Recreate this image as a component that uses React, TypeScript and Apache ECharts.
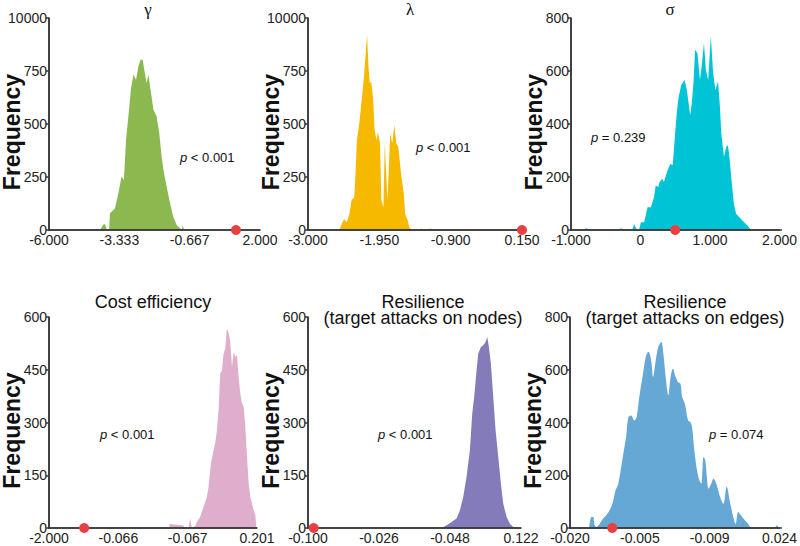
import React, { useEffect, useRef } from "react";
import * as echarts from "echarts";

const FONT = "'Liberation Sans', Arial, Helvetica, sans-serif";

// ---- gamma ----
const gammaX = [-4.95,-4.89,-4.83,-4.5,-4.45,-4.4,-4.06,-3.95,-3.88,-3.8,-3.72,-3.69,-3.5,-3.37,-3.25,-3.16,-3.08,-2.99,-2.89,-2.8,-2.7,-2.61,-2.53,-2.45,-2.4,-2.3,-2.23,-2.15,-2.04,-1.92,-1.82,-1.73,-1.64,-1.54,-1.41,-1.29,-1.16,-1.03,-0.97,-0.93,-0.88];
const gammaY = [0,5,0,0,5,0,0,25,28,0,0,79,102,173,252,236,425,535,669,732,709,772,803,803,764,693,732,661,567,535,457,346,268,205,126,63,24,8,0,22,0];
const gammaObs = 1.09;
const gammaTicks = [-6, -3.333, -0.667, 2];
const gammaTickLabels = ["-6.000", "-3.333", "-0.667", "2.000"];

// ---- lambda ----
const lambdaX = [-2.54,-2.47,-2.43,-2.39,-2.36,-2.32,-2.31,-2.28,-2.24,-2.22,-2.18,-2.15,-2.13,-2.11,-2.09,-2.07,-2.04,-2.02,-1.99,-1.97,-1.94,-1.92,-1.89,-1.87,-1.83,-1.79,-1.76,-1.73,-1.7,-1.67,-1.63,-1.59,-1.57,-1.53,-1.51,-1.47,-1.36,-1.33,-1.31,-1.23,-1.2,-1.17];
const lambdaY = [0,52,36,76,139,155,202,423,518,581,708,834,921,771,692,700,613,471,423,463,408,139,107,408,139,455,408,494,408,392,265,171,76,44,13,0,0,8,0,0,8,0];
const lambdaObs = 0.15;
const lambdaTicks = [-3, -1.95, -0.9, 0.15];
const lambdaTickLabels = ["-3.000", "-1.950", "-0.900", "0.150"];

// ---- sigma ----
const sigmaX = [-0.81,-0.78,-0.75,-0.3,-0.28,-0.25,-0.12,-0.09,-0.05,-0.02,0.006,0.053,0.101,0.148,0.195,0.219,0.256,0.275,0.313,0.337,0.37,0.408,0.431,0.464,0.502,0.526,0.549,0.587,0.634,0.667,0.715,0.738,0.762,0.786,0.819,0.856,0.88,0.913,0.941,0.974,1.012,1.045,1.078,1.116,1.14,1.163,1.201,1.234,1.258,1.282,1.315,1.343,1.376,1.423,1.47,1.541,1.589];
const sigmaY = [0,8,0,0,8,0,0,22,0,0,29,29,86,86,124,168,162,181,193,181,209,238,250,244,377,453,503,547,566,528,433,478,554,680,667,566,617,705,604,566,731,592,528,560,478,364,276,314,320,269,175,99,61,48,35,16,0];
const sigmaObs = 0.5;
const sigmaTicks = [-1, 0, 1, 2];
const sigmaTickLabels = ["-1.000", "0", "1.000", "2.000"];

// ---- cost efficiency (positions along the tick sequence) ----
const costX = [1.737,1.794,1.93,1.963,2.012,2.036,2.06,2.108,2.132,2.18,2.229,2.277,2.301,2.335,2.373,2.397,2.422,2.446,2.47,2.494,2.518,2.542,2.566,2.59,2.615,2.639,2.663,2.687,2.711,2.735,2.759,2.783,2.808,2.832,2.856,2.88,2.904,2.928,2.952,2.976,2.991];
const costY = [12,10,8,0,0,27,0,5,17,31,60,88,117,183,221,240,278,335,439,448,496,510,567,555,529,458,500,486,491,429,382,354,344,287,202,126,88,69,50,36,0];
const costObs = 0.507;
const costTicks = [0, 1, 2, 3];
const costTickLabels = ["-2.000", "-0.066", "-0.067", "0.201"];

// ---- resilience nodes ----
const nodesX = [1.881,1.951,2.022,2.092,2.139,2.186,2.233,2.28,2.313,2.341,2.374,2.398,2.435,2.468,2.501,2.525,2.548,2.576,2.609,2.642,2.68,2.717,2.75,2.797,2.844,2.891,2.915];
const nodesY = [0,8,17,27,50,88,145,221,325,373,448,496,515,520,529,543,515,467,373,278,202,126,69,31,12,3,0];
const nodesObs = 0.08;
const nodesTicks = [0, 1, 2, 3];
const nodesTickLabels = ["-0.100", "-0.026", "-0.048", "0.122"];

// ---- resilience edges ----
const edgesX = [0.274,0.307,0.331,0.354,0.378,0.425,0.472,0.52,0.567,0.614,0.652,0.685,0.718,0.756,0.803,0.836,0.874,0.921,0.954,0.992,1.039,1.086,1.124,1.162,1.19,1.228,1.266,1.308,1.337,1.37,1.408,1.441,1.474,1.512,1.545,1.582,1.606,1.644,1.691,1.724,1.748,1.781,1.819,1.852,1.88,1.913,1.937,1.96,1.984,2.022,2.055,2.102,2.149,2.197,2.244,2.291,2.338,2.371,2.409,2.447,2.504,2.551,2.598,2.929,2.962,2.985];
const edgesY = [0,42,42,10,4,16,35,48,67,99,143,162,206,269,345,421,427,408,421,497,573,649,668,636,573,636,687,705,661,573,503,573,604,573,554,547,497,472,408,402,383,294,219,181,168,269,257,193,149,168,187,162,118,92,156,99,42,16,61,48,29,16,0,0,10,0];
const edgesObs = 0.605;
const edgesTicks = [0, 1, 2, 3];
const edgesTickLabels = ["-0.020", "-0.005", "-0.009", "0.024"];

// y-axis tick labels
const yLabelsBig = ["0", "250", "500", "750", "10000"];
const yLabels800 = ["0", "200", "400", "600", "800"];
const yLabels600 = ["0", "150", "300", "450", "600"];

const pTexts = ["< 0.001", "< 0.001", "= 0.239", "< 0.001", "< 0.001", "= 0.074"];

const panels = [
  { xs: gammaX, ys: gammaY, obs: gammaObs, ticks: gammaTicks, tickLabels: gammaTickLabels, yMax: 1000, yInt: 250, yLabels: yLabelsBig, color: "#8cb850", smooth: false },
  { xs: lambdaX, ys: lambdaY, obs: lambdaObs, ticks: lambdaTicks, tickLabels: lambdaTickLabels, yMax: 1000, yInt: 250, yLabels: yLabelsBig, color: "#f7b800", smooth: false },
  { xs: sigmaX, ys: sigmaY, obs: sigmaObs, ticks: sigmaTicks, tickLabels: sigmaTickLabels, yMax: 800, yInt: 200, yLabels: yLabels800, color: "#00c4d6", smooth: false },
  { xs: costX, ys: costY, obs: costObs, ticks: costTicks, tickLabels: costTickLabels, yMax: 600, yInt: 150, yLabels: yLabels600, color: "#dfaecc", smooth: false },
  { xs: nodesX, ys: nodesY, obs: nodesObs, ticks: nodesTicks, tickLabels: nodesTickLabels, yMax: 600, yInt: 150, yLabels: yLabels600, color: "#847cba", smooth: false },
  { xs: edgesX, ys: edgesY, obs: edgesObs, ticks: edgesTicks, tickLabels: edgesTickLabels, yMax: 800, yInt: 200, yLabels: yLabels800, color: "#65a8d5", smooth: 0.35 },
];

// layout (pixels)
const grids = [
  { left: 49, top: 18, width: 211, height: 212 },
  { left: 308, top: 18, width: 214, height: 212 },
  { left: 571, top: 18, width: 211, height: 212 },
  { left: 49, top: 317, width: 208, height: 211 },
  { left: 308, top: 317, width: 213, height: 211 },
  { left: 570, top: 317, width: 212, height: 211 },
];
const pPos = [
  [180, 157], [416, 147], [591, 137], [100, 434], [378, 434], [709, 434],
];

export default function App() {
  const ref = useRef<HTMLDivElement>(null);
  useEffect(() => {
    if (!ref.current) return;
    const chart = echarts.init(ref.current, null, { renderer: "svg" });
    const AXIS_COLOR = "#3a3a3a";
    const AXIS_W = 1.6;
    const option: any = {
      animation: false,
      grid: grids.map((g) => ({ ...g })),
      xAxis: panels.map((p, i) => ({
        type: "value",
        gridIndex: i,
        z: 10,
        min: p.ticks[0],
        max: p.ticks[p.ticks.length - 1],
        axisLine: { show: true, onZero: false, lineStyle: { color: AXIS_COLOR, width: AXIS_W } },
        axisTick: { show: false },
        splitLine: { show: false },
        axisLabel: {
          customValues: p.ticks,
          showMinLabel: true,
          showMaxLabel: true,
          fontSize: 14,
          fontFamily: FONT,
          color: "#222",
          margin: 3,
          formatter: (v: number) => {
            let best = 0;
            for (let k = 1; k < p.ticks.length; k++) {
              if (Math.abs(p.ticks[k] - v) < Math.abs(p.ticks[best] - v)) best = k;
            }
            return p.tickLabels[best];
          },
        },
      })),
      yAxis: panels.map((p, i) => ({
        type: "value",
        gridIndex: i,
        z: 10,
        min: 0,
        max: p.yMax,
        interval: p.yInt,
        axisLine: { show: true, onZero: false, lineStyle: { color: AXIS_COLOR, width: AXIS_W } },
        axisTick: { show: true, length: 3, lineStyle: { color: AXIS_COLOR, width: 1.5 } },
        splitLine: { show: false },
        axisLabel: {
          fontSize: 14,
          fontFamily: FONT,
          color: "#222",
          margin: 2,
          formatter: (v: number) => p.yLabels[Math.round(v / p.yInt)],
        },
      })),
      series: [
        ...panels.map((p, i) => ({
          type: "line",
          xAxisIndex: i,
          yAxisIndex: i,
          data: p.xs.map((x, j) => [x, p.ys[j]]),
          symbol: "none",
          showSymbol: false,
          smooth: p.smooth,
          lineStyle: { width: 0, color: p.color },
          itemStyle: { color: p.color },
          areaStyle: { color: p.color, opacity: 1 },
          silent: true,
          z: 2,
        })),
        ...panels.map((p, i) => ({
          type: "scatter",
          xAxisIndex: i,
          yAxisIndex: i,
          data: [[p.obs, 0]],
          symbolSize: 10,
          clip: false,
          itemStyle: { color: "#e8403f", opacity: 1 },
          silent: true,
          z: 20,
        })),
      ],
      graphic: [
        // axis frame drawn as filled bars on top (left and bottom edge of each grid)
        ...grids.map((g) => ({
          type: "rect",
          z: 15,
          silent: true,
          shape: { x: g.left - AXIS_W / 2, y: g.top, width: AXIS_W, height: g.height + AXIS_W / 2 },
          style: { fill: AXIS_COLOR },
        })),
        ...grids.map((g) => ({
          type: "rect",
          z: 15,
          silent: true,
          shape: { x: g.left - AXIS_W / 2, y: g.top + g.height - AXIS_W / 2, width: g.width + AXIS_W / 2, height: AXIS_W },
          style: { fill: AXIS_COLOR },
        })),
        ...["γ", "λ", "σ"].map((t, i) => ({
          type: "text",
          x: [148, 410, 670][i],
          y: 9,
          style: {
            text: t,
            fontSize: 17,
            fontFamily: "'Liberation Serif', 'DejaVu Serif', serif",
            fill: "#111",
            textAlign: "center",
            textVerticalAlign: "middle",
          },
        })),
        {
          type: "text",
          x: 153,
          y: 302,
          style: { text: "Cost efficiency", fontSize: 18, fontFamily: FONT, fill: "#111", textAlign: "center", textVerticalAlign: "middle" },
        },
        ...[[423, "Resilience"], [423, "(target attacks on nodes)"], [685, "Resilience"], [685, "(target attacks on edges)"]].map((d, k) => ({
          type: "text",
          x: d[0] as number,
          y: k % 2 === 0 ? 302 : 318,
          style: { text: d[1] as string, fontSize: 18, fontFamily: FONT, fill: "#111", textAlign: "center", textVerticalAlign: "middle" },
        })),
        ...grids.map((g) => ({
          type: "text",
          x: g.left - 37,
          y: g.top + g.height / 2 + 8,
          rotation: Math.PI / 2,
          style: {
            text: "Frequency",
            fontSize: 23,
            fontWeight: "bold",
            fontFamily: FONT,
            fill: "#111",
            textAlign: "center",
            textVerticalAlign: "middle",
          },
        })),
        ...pPos.map((pp, i) => ({
          type: "text",
          x: pp[0],
          y: pp[1],
          style: {
            text: "{i|p} " + pTexts[i],
            fontSize: 13,
            fontFamily: FONT,
            fill: "#111",
            textAlign: "left",
            textVerticalAlign: "middle",
            rich: {
              i: { fontStyle: "italic", fontSize: 13, fontFamily: FONT, fill: "#111" },
            },
          },
        })),
      ],
    };
    chart.setOption(option);
    return () => chart.dispose();
  }, []);
  return (
    <div
      ref={ref}
      style={{ position: "absolute", left: 0, top: 0, width: 800, height: 546, background: "#fff" }}
    />
  );
}
